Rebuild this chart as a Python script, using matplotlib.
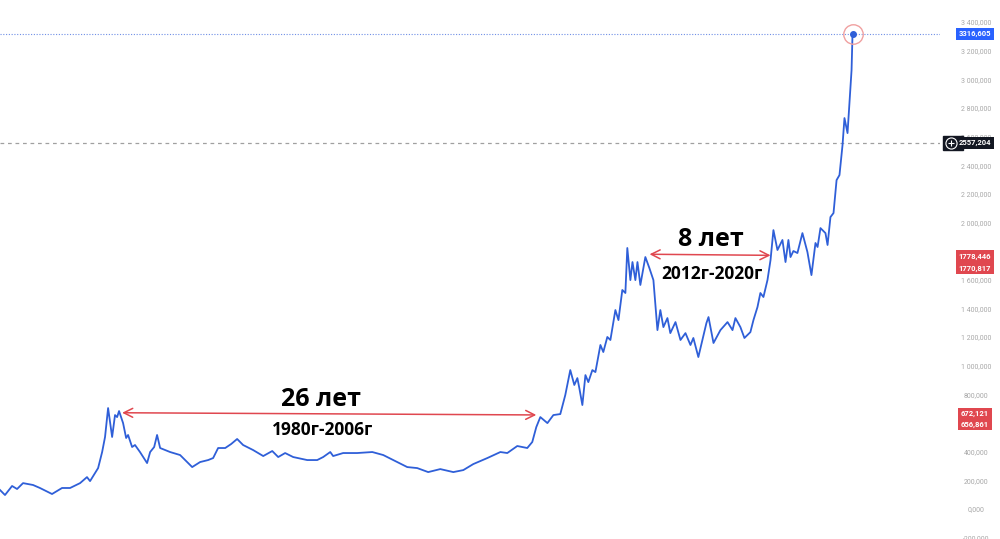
import matplotlib
matplotlib.use("Agg")
import matplotlib.pyplot as plt
import matplotlib.transforms as mtransforms
from matplotlib.ticker import FuncFormatter

plt.rcParams['font.family'] = ['Open Sans', 'DejaVu Sans']

# gold price (decimal year, price)
years = [1972.55, 1972.86, 1973.30, 1973.61, 1973.98, 1974.60, 1975.03, 1975.78, 1976.40, 1976.90,
         1977.52, 1977.95, 1978.14, 1978.64, 1978.89, 1979.07, 1979.26, 1979.51, 1979.69, 1979.82,
         1979.94, 1980.19, 1980.38, 1980.50, 1980.75, 1980.93, 1981.24, 1981.68, 1981.87, 1982.12,
         1982.30, 1982.49, 1983.11, 1983.73, 1984.48, 1984.97, 1985.47, 1985.78, 1986.09, 1986.53,
         1986.90, 1987.27, 1987.64, 1988.26, 1988.89, 1989.45, 1989.82, 1990.25, 1990.75, 1991.62,
         1992.24, 1992.61, 1993.05, 1993.23, 1993.85, 1994.72, 1995.66, 1996.34, 1997.21, 1997.83,
         1998.45, 1999.13, 1999.88, 2000.69, 2001.31, 2001.93, 2002.80, 2003.61, 2004.04, 2004.66,
         2005.28, 2005.59, 2005.84, 2006.09, 2006.53, 2006.90, 2007.33, 2007.64, 2007.95, 2008.20,
         2008.39, 2008.51, 2008.70, 2008.89, 2009.07, 2009.32, 2009.51, 2009.82, 2010.00, 2010.25,
         2010.44, 2010.75, 2010.94, 2011.18, 2011.37, 2011.49, 2011.68, 2011.81, 2011.99, 2012.12,
         2012.30, 2012.61, 2012.86, 2013.11, 2013.36, 2013.54, 2013.73, 2013.98, 2014.16, 2014.48,
         2014.79, 2015.10, 2015.41, 2015.59, 2015.90, 2016.15, 2016.40, 2016.53, 2016.84, 2017.27,
         2017.71, 2018.02, 2018.20, 2018.51, 2018.76, 2019.13, 2019.32, 2019.57, 2019.75, 2019.94,
         2020.19, 2020.38, 2020.56, 2020.81, 2021.12, 2021.31, 2021.49, 2021.62, 2021.80, 2022.05,
         2022.36, 2022.67, 2022.92, 2023.17, 2023.30, 2023.48, 2023.79, 2023.92, 2024.10, 2024.29,
         2024.48, 2024.66, 2024.85, 2024.97, 2025.16, 2025.28, 2025.41, 2025.47]
prices = [133, 98, 161, 140, 181, 168, 147, 105, 147, 147,
          181, 223, 195, 286, 398, 503, 705, 503, 656, 642,
          684, 600, 496, 517, 433, 447, 398, 321, 398, 433,
          517, 426, 398, 377, 293, 328, 342, 356, 426, 426,
          454, 489, 447, 412, 370, 405, 363, 391, 363, 342,
          342, 363, 398, 370, 391, 391, 398, 377, 328, 293,
          286, 258, 279, 258, 272, 314, 356, 398, 391, 440,
          426, 468, 572, 642, 600, 656, 663, 796, 970, 866,
          914, 845, 726, 935, 886, 970, 956, 1145, 1096, 1201,
          1180, 1389, 1319, 1529, 1508, 1822, 1598, 1724, 1598, 1724,
          1564, 1759, 1682, 1598, 1249, 1389, 1270, 1333, 1228, 1305,
          1180, 1228, 1145, 1194, 1061, 1180, 1298, 1340, 1159, 1249,
          1305, 1249, 1333, 1270, 1194, 1235, 1319, 1410, 1508, 1480,
          1598, 1738, 1947, 1808, 1878, 1724, 1878, 1759, 1801, 1787,
          1926, 1794, 1633, 1857, 1829, 1961, 1926, 1843, 2038, 2066,
          2296, 2331, 2541, 2729, 2624, 2841, 3064, 3316.605]

last_price = 3316.605
ref_price = 2557.204
arrow1 = [(1980.13, 672.121), (2005.84, 656.861)]
arrow2 = [(2012.87, 1778.446), (2020.38, 1770.817)]
yticks = list(range(-200, 3401, 200))

blue = '#2f5fd8'
red = '#e0474f'

fig = plt.figure(figsize=(10, 5.39), dpi=100)
ax = fig.add_axes([0, 0, 0.94, 1])
ax.plot(years, prices, color=blue, lw=1.3, zorder=3)
ax.set_xlim(1972.55, 2030.9)
ax.set_ylim(-209, 3553)

# horizontal price lines
ax.axhline(last_price, color='#6f8fe6', lw=0.8, ls=(0, (1, 1.5)), zorder=1)
ax.axhline(ref_price, color='#a0a0a0', lw=0.9, ls=(0, (3, 3)), zorder=1)

# last point marker
ax.plot(years[-1], prices[-1], 'o', ms=4, color=blue, zorder=4)
ax.plot(years[-1], prices[-1], 'o', ms=14, mfc='none', mec='#f0a0a0', mew=1, zorder=4)

# arrows
for (x0, y0), (x1, y1) in [arrow1, arrow2]:
    ax.annotate('', xy=(x1, y1), xytext=(x0, y0),
                arrowprops=dict(arrowstyle='<->', color=red, lw=1.1,
                                mutation_scale=16, shrinkA=0, shrinkB=0))

ax.text(1992.49, 768, '26 лет', fontsize=18, fontweight='bold', ha='center', va='center')
ax.text(1992.55, 551, '1980г-2006г', fontsize=12.5, fontweight='bold', ha='center', va='center')
ax.text(2016.65, 1878, '8 лет', fontsize=18, fontweight='bold', ha='center', va='center')
ax.text(2016.77, 1640, '2012г-2020г', fontsize=12.5, fontweight='bold', ha='center', va='center')

# right price scale
def fmt(v, pos):
    s = f"{v:,.3f}"
    return s.replace(',', ' ').replace('.', ',')

ax.yaxis.tick_right()
ax.set_yticks(yticks)
ax.yaxis.set_major_formatter(FuncFormatter(fmt))
ax.tick_params(axis='y', length=0, pad=26, labelsize=5, labelcolor='#a8a8a8')
for lab in ax.get_yticklabels():
    lab.set_horizontalalignment('center')
    lab.set_family(['Roboto', 'DejaVu Sans'])
ax.set_xticks([])
for s in ax.spines.values():
    s.set_visible(False)

# price label boxes
trans = mtransforms.blended_transform_factory(fig.transFigure, ax.transData)
def price_box(v, color, y=None):
    fig.text(0.975, v if y is None else y, fmt(v, None).replace(' ', ''), transform=trans,
             fontsize=5.5, fontweight='bold', color='white', ha='center', va='center',
             family=['Roboto', 'DejaVu Sans'],
             bbox=dict(boxstyle='square,pad=0.32', fc=color, ec='none'), zorder=5)

price_box(last_price, '#2962ff')
price_box(ref_price, '#131722')
price_box(arrow2[0][1], red, y=1766)
price_box(arrow2[1][1], red, y=1681)
price_box(arrow1[0][1], red, y=667)
price_box(arrow1[1][1], red, y=590)

# black strip with circle-plus icon next to the reference price
fig.patches.append(plt.Rectangle((0.943, ref_price - 48), 0.02, 96, transform=trans,
                                 color='#131722', zorder=4))
fig.lines.append(plt.Line2D([0.9505], [ref_price], transform=trans, marker='o', ms=8,
                            mfc='none', mec='white', mew=0.8, zorder=6))
fig.lines.append(plt.Line2D([0.9505], [ref_price], transform=trans, marker='+', ms=4.5,
                            color='white', mew=0.8, zorder=6))

plt.savefig('out.png', dpi=100)
